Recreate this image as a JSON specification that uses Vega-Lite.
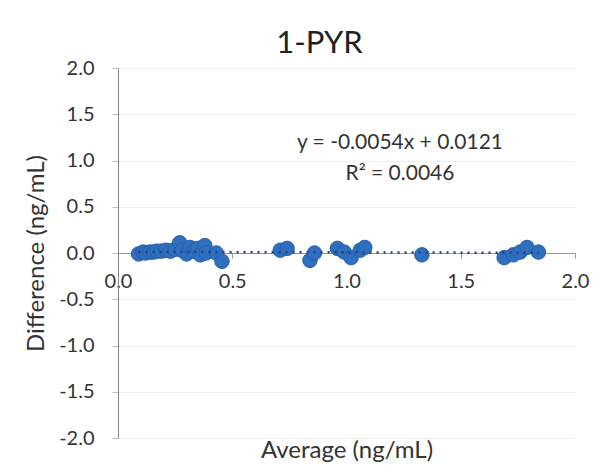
{
  "$schema": "https://vega.github.io/schema/vega-lite/v6.json",
  "width": 457,
  "height": 370,
  "autosize": "none",
  "padding": {"left": 118, "top": 68, "right": 30, "bottom": 35},
  "background": "white",
  "config": {
    "font": "Lato",
    "view": {"stroke": null}
  },
  "title": {
    "text": "1-PYR",
    "fontSize": 31,
    "fontWeight": "normal",
    "color": "#222",
    "font": "Lato",
    "anchor": "middle",
    "dx": -27,
    "offset": -2
  },
  "layer": [
    {
      "data": {"values": [
        {"avg": 0.09, "diff": -0.01},
        {"avg": 0.11, "diff": 0.01},
        {"avg": 0.12, "diff": 0.0},
        {"avg": 0.14, "diff": 0.01},
        {"avg": 0.155, "diff": 0.01},
        {"avg": 0.17, "diff": 0.02},
        {"avg": 0.19, "diff": 0.02},
        {"avg": 0.21, "diff": 0.03},
        {"avg": 0.23, "diff": 0.02},
        {"avg": 0.25, "diff": 0.04},
        {"avg": 0.27, "diff": 0.11},
        {"avg": 0.28, "diff": 0.03},
        {"avg": 0.30, "diff": -0.01},
        {"avg": 0.315, "diff": 0.06},
        {"avg": 0.33, "diff": 0.02},
        {"avg": 0.35, "diff": 0.05},
        {"avg": 0.36, "diff": -0.02},
        {"avg": 0.38, "diff": 0.08},
        {"avg": 0.385, "diff": 0.0},
        {"avg": 0.43, "diff": 0.0},
        {"avg": 0.455, "diff": -0.09},
        {"avg": 0.71, "diff": 0.03},
        {"avg": 0.74, "diff": 0.05},
        {"avg": 0.84, "diff": -0.08},
        {"avg": 0.86, "diff": 0.0},
        {"avg": 0.96, "diff": 0.05},
        {"avg": 0.99, "diff": 0.01},
        {"avg": 1.02, "diff": -0.05},
        {"avg": 1.06, "diff": 0.03},
        {"avg": 1.08, "diff": 0.06},
        {"avg": 1.33, "diff": -0.02},
        {"avg": 1.69, "diff": -0.05},
        {"avg": 1.73, "diff": -0.02},
        {"avg": 1.76, "diff": 0.01},
        {"avg": 1.79, "diff": 0.06},
        {"avg": 1.84, "diff": 0.01}
      ]},
      "mark": {"type": "circle", "size": 210, "opacity": 1, "color": "#2E6FBF", "stroke": "#2560AA", "strokeWidth": 1},
      "encoding": {
        "x": {
          "field": "avg", "type": "quantitative",
          "scale": {"domain": [0, 2], "nice": false, "zero": false},
          "axis": {
            "title": "Average (ng/mL)",
            "values": [0, 0.5, 1, 1.5, 2],
            "labelExpr": "format(datum.value, '.1f')",
            "offset": -185,
            "grid": false,
            "domainColor": "#999",
            "tickColor": "#999",
            "tickSize": 5,
            "labelFontSize": 20,
            "labelColor": "#333",
            "labelPadding": 13,
            "labelFlush": false,
            "titleFontSize": 24,
            "titleFontWeight": "normal",
            "titleColor": "#333",
            "titleY": 197,
            "titleBaseline": "middle"
          }
        },
        "y": {
          "field": "diff", "type": "quantitative",
          "scale": {"domain": [-2, 2], "nice": false},
          "axis": {
            "title": "Difference (ng/mL)",
            "values": [-2, -1.5, -1, -0.5, 0, 0.5, 1, 1.5, 2],
            "labelExpr": "datum.value < 0 ? '-' + format(-datum.value, '.1f') : format(datum.value, '.1f')",
            "grid": true,
            "gridColor": "#eeeeee",
            "domainColor": "#888",
            "tickColor": "#bbb",
            "tickSize": 6,
            "labelFontSize": 20,
            "labelColor": "#333",
            "labelPadding": 18,
            "titleFontSize": 24,
            "titleFontWeight": "normal",
            "titleColor": "#333",
            "titlePadding": 10
          }
        }
      }
    },
    {
      "data": {"values": [
        {"avg": 0.09, "diff": 0.0116},
        {"avg": 1.84, "diff": 0.0022}
      ]},
      "mark": {"type": "line", "color": "#1F3F7F", "strokeWidth": 2.5, "strokeDash": [2, 5]},
      "encoding": {
        "x": {"field": "avg", "type": "quantitative"},
        "y": {"field": "diff", "type": "quantitative"}
      }
    },
    {
      "data": {"values": [
        {"avg": 1.234, "diff": 1.19, "label": "y = -0.0054x + 0.0121"},
        {"avg": 1.234, "diff": 0.855, "label": "R² = 0.0046"}
      ]},
      "mark": {"type": "text", "fontSize": 21, "color": "#333", "align": "center", "baseline": "middle", "font": "Lato"},
      "encoding": {
        "x": {"field": "avg", "type": "quantitative"},
        "y": {"field": "diff", "type": "quantitative"},
        "text": {"field": "label"}
      }
    }
  ]
}
